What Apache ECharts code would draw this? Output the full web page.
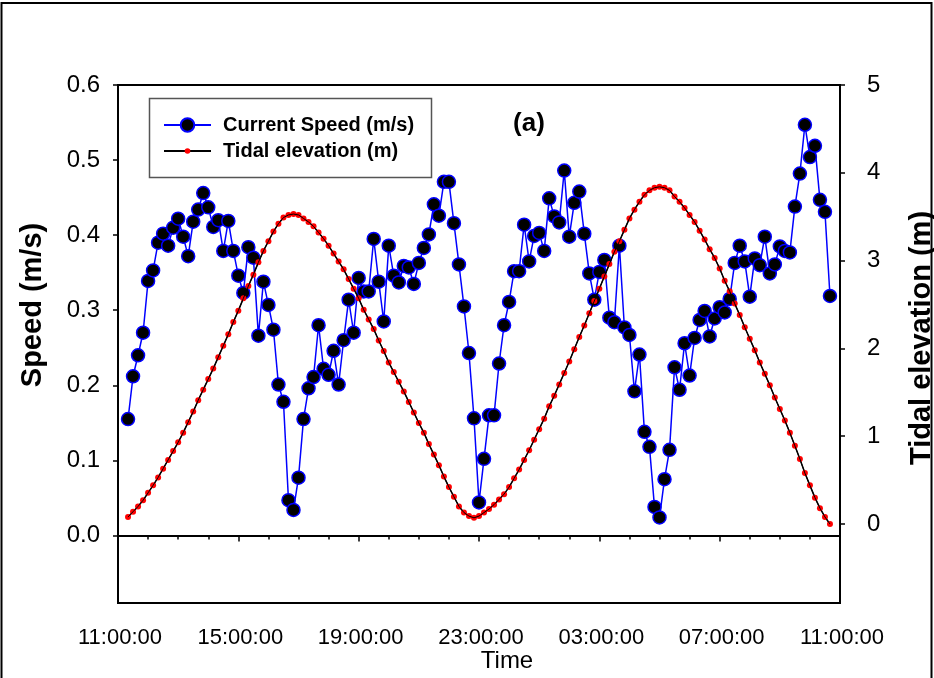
<!DOCTYPE html>
<html><head><meta charset="utf-8">
<script src="https://cdn.jsdelivr.net/npm/echarts@6/dist/echarts.min.js"></script>
<style>html,body{margin:0;padding:0;background:#fff}#c{width:934px;height:678px}</style>
</head><body><div id="c"></div>
<script>
// time sampling: first sample 11:20, every 10 minutes (hours after 11:00)
const firstSampleMinutes = 20;
const stepMinutes = 10;
const xTickLabels = ['11:00:00','15:00:00','19:00:00','23:00:00','03:00:00','07:00:00','11:00:00'];
const speedTicks = [0, 0.1, 0.2, 0.3, 0.4, 0.5, 0.6];
const tideTicks = [0, 1, 2, 3, 4, 5];

const speed = [
  0.155,0.212,0.240,0.270,0.339,0.353,0.390,0.402,0.386,0.410,0.422,0.398,0.372,0.418,0.434,0.456,0.437,0.411,0.420,0.379,0.419,0.379,0.346,0.323,0.384,0.370,0.266,0.338,
  0.307,0.274,0.201,0.178,0.047,0.034,0.077,0.155,0.196,0.211,0.280,0.222,0.214,0.246,0.201,0.260,0.314,0.270,0.343,0.325,0.325,0.395,0.338,0.285,0.386,0.346,0.337,0.359,
  0.357,0.335,0.363,0.383,0.401,0.441,0.426,0.471,0.471,0.416,0.361,0.305,0.243,0.156,0.044,0.102,0.160,0.160,0.229,0.280,0.311,0.352,0.352,0.414,0.365,0.399,0.403,0.379,0.449,
  0.425,0.417,0.486,0.398,0.443,0.458,0.402,0.349,0.314,0.351,0.367,0.290,0.284,0.386,0.277,0.267,0.192,0.241,0.138,0.118,0.038,0.024,0.075,0.114,0.224,0.194,0.256,0.213,0.263,0.287,
  0.299,0.265,0.289,0.304,0.297,0.315,0.363,0.386,0.365,0.318,0.369,0.360,0.398,0.349,0.361,0.385,0.379,0.377,0.438,0.482,0.547,0.504,0.519,0.447,0.431,0.319
];
const tide = [
  0.08,0.14,0.20,0.27,0.355,0.44,0.53,0.63,0.73,0.83,0.93,1.04,1.16,1.28,1.41,1.53,1.65,1.77,1.90,2.03,2.16,2.30,2.43,2.57,2.71,2.84,2.98,3.11,
  3.22,3.33,3.42,3.49,3.52,3.53,3.52,3.48,3.44,3.39,3.32,3.25,3.17,3.08,2.99,2.90,2.79,2.68,2.57,2.44,2.33,2.22,2.09,1.97,1.84,1.73,1.62,1.51,1.39,
  1.27,1.15,1.04,0.91,0.79,0.67,0.54,0.42,0.31,0.20,0.13,0.09,0.07,0.09,0.13,0.17,0.22,0.28,0.34,0.42,0.52,0.62,0.73,0.84,0.96,1.08,1.20,1.34,
  1.46,1.59,1.72,1.85,1.99,2.13,2.26,2.40,2.54,2.68,2.82,2.96,3.10,3.22,3.35,3.48,3.58,3.67,3.75,3.80,3.83,3.84,3.83,3.80,3.73,3.67,3.60,3.52,3.44,3.34,
  3.24,3.13,3.03,2.91,2.77,2.65,2.51,2.38,2.24,2.11,1.98,1.84,1.71,1.58,1.44,1.31,1.18,1.04,0.89,0.74,0.58,0.44,0.30,0.18,0.08,0.00
];

const hours = speed.map((_, i) => (firstSampleMinutes + i * stepMinutes) / 60);
const speedData = hours.map((h, i) => [h, speed[i]]);
const tideData = hours.map((h, i) => [h, tide[i]]);

const FONT = "'Liberation Sans', Arial, Helvetica, sans-serif";
const chart = echarts.init(document.getElementById('c'), null, {renderer: 'canvas'});
chart.setOption({
  animation: false,
  backgroundColor: '#fff',
  textStyle: {fontFamily: FONT},
  grid: {left: 118, right: 94, top: 85, bottom: 75, show: true, borderColor: '#000', borderWidth: 2, backgroundColor: 'transparent'},
  xAxis: {
    type: 'value', min: 0, max: 24, interval: 4,
    axisLine: {show: true, lineStyle: {color: '#000', width: 2}},
    axisTick: {show: true, length: 6, lineStyle: {color: '#000', width: 1.5}},
    minorTick: {show: true, splitNumber: 4, length: 4, lineStyle: {color: '#000', width: 1.5}},
    splitLine: {show: false}, minorSplitLine: {show: false},
    axisLabel: {color: '#000', fontSize: 22, fontFamily: FONT, margin: 24, padding: [0, 0, 0, 4],
      formatter: v => xTickLabels[Math.round(v / 4)]}
  },
  yAxis: [{
    type: 'value', position: 'left', min: -0.09, max: 0.6,
    axisLine: {show: true, lineStyle: {color: '#000', width: 2}},
    axisTick: {show: true, length: 5, customValues: speedTicks, lineStyle: {color: '#000', width: 1.5}},
    splitLine: {show: false},
    axisLabel: {color: '#000', fontSize: 24, fontFamily: FONT, margin: 18, customValues: speedTicks,
      formatter: v => v.toFixed(1)}
  }, {
    type: 'value', position: 'right', min: -0.9, max: 5,
    axisLine: {show: true, lineStyle: {color: '#000', width: 2}},
    axisTick: {show: true, length: 5, customValues: tideTicks, lineStyle: {color: '#000', width: 1.5}},
    splitLine: {show: false},
    axisLabel: {color: '#000', fontSize: 24, fontFamily: FONT, margin: 27, customValues: tideTicks,
      formatter: v => String(v)}
  }],
  legend: [{
    data: ['Current Speed (m/s)'], left: 163, top: 115, padding: 0, orient: 'vertical',
    itemWidth: 47, itemHeight: 17,
    textStyle: {fontSize: 20, fontWeight: 'bold', color: '#000', fontFamily: FONT, lineHeight: 20, padding: [0, 0, 0, 7]}
  }, {
    data: ['Tidal elevation (m)'], left: 163, top: 141, padding: 0, orient: 'vertical',
    itemWidth: 47, itemHeight: 7,
    textStyle: {fontSize: 20, fontWeight: 'bold', color: '#000', fontFamily: FONT, lineHeight: 20, padding: [0, 0, 0, 7]}
  }],
  graphic: [
    {type: 'rect', shape: {x: 1.5, y: 3, width: 930, height: 700}, style: {fill: 'none', stroke: '#000', lineWidth: 2}, silent: true, z: 0},
    {type: 'rect', shape: {x: 149.5, y: 98.5, width: 282, height: 79}, style: {fill: 'none', stroke: '#555', lineWidth: 1.5}, silent: true, z: 0},
    {type: 'text', x: 33, y: 305, rotation: Math.PI / 2, style: {text: 'Speed (m/s)', x: 0, y: 0, textAlign: 'center', textVerticalAlign: 'middle', font: "bold 29px " + FONT, fill: '#000'}},
    {type: 'text', x: 922, y: 338, rotation: Math.PI / 2, style: {text: 'Tidal elevation (m)', x: 0, y: 0, textAlign: 'center', textVerticalAlign: 'middle', font: "bold 29px " + FONT, fill: '#000'}},
    {type: 'text', x: 507, y: 661, style: {text: 'Time', x: 0, y: 0, textAlign: 'center', textVerticalAlign: 'middle', font: "24px " + FONT, fill: '#000'}},
    {type: 'text', x: 529, y: 124, style: {text: '(a)', x: 0, y: 0, textAlign: 'center', textVerticalAlign: 'middle', font: "bold 26px " + FONT, fill: '#000'}}
  ],
  series: [{
    name: 'Current Speed (m/s)', type: 'line', yAxisIndex: 0, data: speedData,
    symbol: 'circle', symbolSize: 13, z: 2,
    itemStyle: {color: '#000', borderColor: '#0000ff', borderWidth: 1.5},
    lineStyle: {color: '#0000ff', width: 1.5}
  }, {
    name: 'Tidal elevation (m)', type: 'line', yAxisIndex: 1, data: tideData,
    symbol: 'circle', symbolSize: 6, z: 3,
    itemStyle: {color: '#ff0000', borderWidth: 0},
    lineStyle: {color: '#000', width: 1.5}
  }, {
    name: 'tideLineTop', type: 'line', yAxisIndex: 1, data: tideData,
    symbol: 'none', z: 4, silent: true,
    lineStyle: {color: '#000', width: 1}
  }]
});
</script></body></html>
